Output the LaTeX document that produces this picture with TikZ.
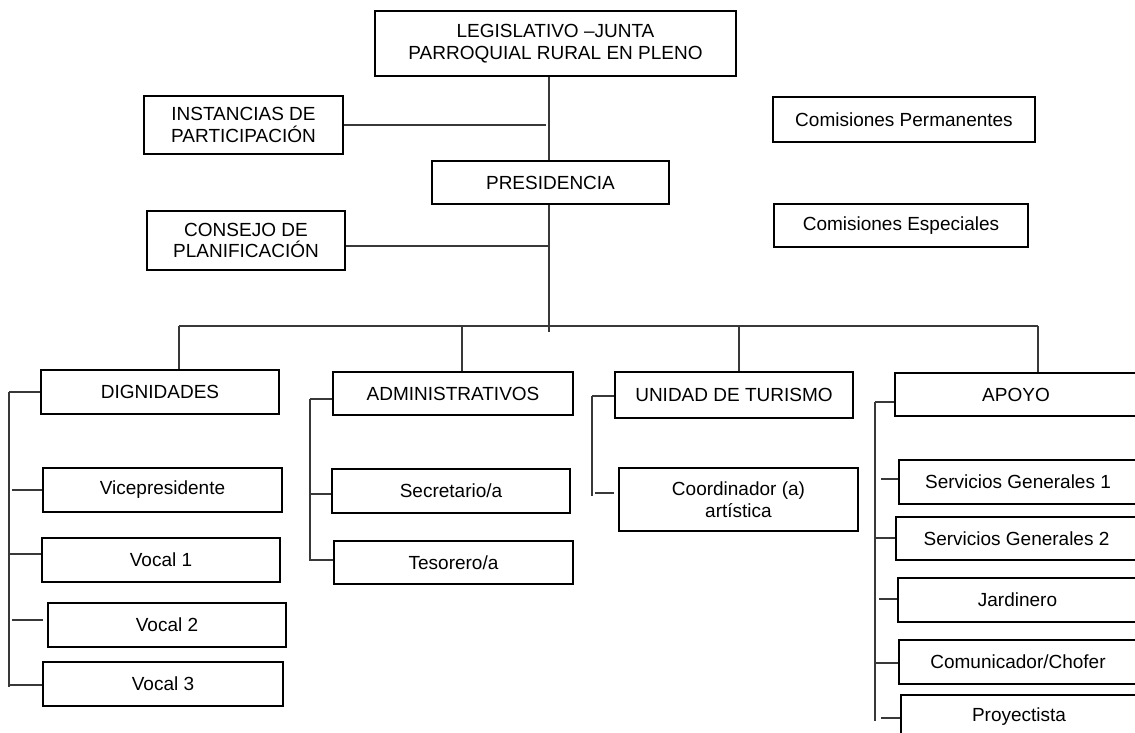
\documentclass[tikz,border=0pt]{standalone}
\usepackage{fontspec}
\setmainfont{Liberation Sans}
\usetikzlibrary{calc}
% box given by left, top, right, bottom edges
\newcommand{\orgcell}[6]{%
  \node[orgbox, minimum width={(#4-#2)*1pt}, minimum height={(#5-#3)*1pt}]
    (#1) at ({(#2+#4)/2},{(#3+#5)/2}) {#6};}
\begin{document}
\begin{tikzpicture}[x=1pt,y=-1pt,
  orgbox/.style={draw=black, line width=2pt, fill=white, inner sep=0pt,
    align=center, font=\fontsize{19}{21.5}\selectfont},
  link/.style={draw=black!78, line width=1.1pt}]
\useasboundingbox (0,0) rectangle (1135,733);
\clip (0,0) rectangle (1135,733);

% upper level
\orgcell{leg}{375}{11}{736}{76}{LEGISLATIVO –JUNTA\\PARROQUIAL RURAL EN PLENO}
\orgcell{inst}{144}{96}{343}{154}{INSTANCIAS DE\\PARTICIPACIÓN}
\orgcell{pres}{432}{161}{669}{204}{PRESIDENCIA}
\orgcell{cons}{147}{211}{345}{270}{CONSEJO DE\\PLANIFICACIÓN}
\orgcell{perm}{773}{97}{1035}{142}{Comisiones Permanentes}
\orgcell{esp}{774}{204}{1028}{247}{Comisiones Especiales}

% dignidades
\orgcell{dig}{41}{370}{279}{414}{DIGNIDADES}
\orgcell{vice}{43}{468}{282}{512}{Vicepresidente}
\orgcell{voc1}{42}{538}{280}{582}{Vocal 1}
\orgcell{voc2}{48}{603}{286}{647}{Vocal 2}
\orgcell{voc3}{43}{662}{283}{706}{Vocal 3}

% administrativos
\orgcell{adm}{333}{372}{573}{415}{ADMINISTRATIVOS}
\orgcell{sec}{332}{469}{570}{513}{Secretario/a}
\orgcell{tes}{334}{541}{573}{584}{Tesorero/a}

% turismo
\orgcell{uni}{615}{372}{853}{418}{UNIDAD DE TURISMO}
\orgcell{coord}{619}{468}{858}{531}{Coordinador (a)\\artística}

% apoyo (these boxes run past the right margin)
\orgcell{apo}{895}{373}{1137}{416}{APOYO}
\orgcell{sg1}{899}{460}{1137}{504}{Servicios Generales 1}
\orgcell{sg2}{896}{517}{1137}{560}{Servicios Generales 2}
\orgcell{jar}{898}{578}{1137}{622}{Jardinero}
\orgcell{com}{899}{640}{1137}{684}{Comunicador/Chofer}
\orgcell{pro}{901}{695}{1137}{739}{Proyectista}

% main spine
\coordinate (sp) at (549,332);
\draw[link] (leg.south -| sp) -- (pres.north -| sp);
\draw[link] (pres.south -| sp) -- (sp);
\draw[link] (inst.east) -- ($(inst.east -| sp)+(-3,0)$);
\draw[link] ($(cons.east)+(0,5.5)$) -- ($(cons.east -| sp)+(0,5.5)$);

% bus and drops
\coordinate (b1) at (179,326);
\coordinate (b2) at (462,326);
\coordinate (b3) at (739,326);
\coordinate (b4) at (1038,326);
\draw[link] (b1) -- (b4);
\draw[link] (b1) -- (b1 |- dig.north);
\draw[link] (b2) -- (b2 |- adm.north);
\draw[link] (b3) -- (b3 |- uni.north);
\draw[link] (b4) -- (b4 |- apo.north);

% dignidades branches
\coordinate (s1) at (9,392);
\draw[link] (s1) -- (9,687);
\draw[link] (s1) -- (s1 -| dig.west);
\draw[link] ($(s1 |- vice.west)+(3,0)$) -- (vice.west);
\draw[link] (s1 |- 0,554) -- (voc1.west |- 0,554);
\draw[link] ($(s1 |- 0,620)+(3,0)$) -- ($(voc2.west |- 0,620)+(-4,0)$);
\draw[link] (s1 |- 0,685) -- (voc3.west |- 0,685);

% administrativos branches
\coordinate (s2) at (310,399);
\draw[link] (s2) -- (310,561);
\draw[link] (s2) -- (s2 -| adm.west);
\draw[link] (s2 |- 0,494) -- (sec.west |- 0,494);
\draw[link] (s2 |- 0,560) -- (tes.west |- 0,560);

% turismo branches
\coordinate (s3) at (592,396);
\draw[link] (s3) -- (592,496);
\draw[link] (s3) -- (s3 -| uni.west);
\draw[link] ($(s3 |- 0,493)+(3,0)$) -- ($(coord.west |- 0,493)+(-4,0)$);

% apoyo branches
\coordinate (s4) at (875,402);
\draw[link] (s4) -- (875,721);
\draw[link] (s4) -- (s4 -| apo.west);
\draw[link] ($(s4 |- 0,479)+(6,0)$) -- (sg1.west |- 0,479);
\draw[link] (s4 |- 0,538) -- (sg2.west |- 0,538);
\draw[link] ($(s4 |- 0,599)+(4,0)$) -- (jar.west |- 0,599);
\draw[link] (s4 |- 0,663) -- (com.west |- 0,663);
\draw[link] ($(s4 |- 0,718)+(6,0)$) -- (pro.west |- 0,718);
\end{tikzpicture}
\end{document}
